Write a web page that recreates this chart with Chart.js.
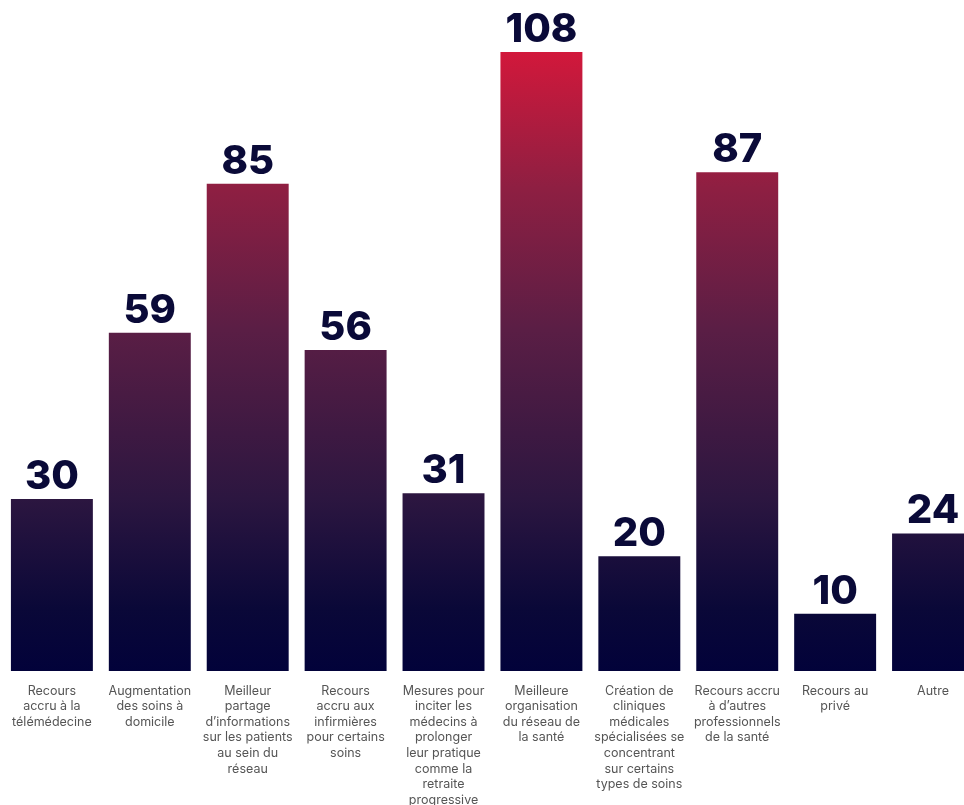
<!DOCTYPE html>
<html>
<head>
<meta charset="utf-8">
<script src="https://cdn.jsdelivr.net/npm/chart.js@4.4.1/dist/chart.umd.min.js"></script>
<style>
    html, body { margin: 0; padding: 0; background: #ffffff; overflow: hidden; }
    #wrap { width: 964px; height: 805px; overflow: hidden; position: relative; }
    #box { width: 984px; height: 811px; position: absolute; left: 0; top: 0; }
</style>
</head>
<body>
<div id="wrap">
    <div id="box"><canvas id="myBarChart"></canvas></div>
</div>
<script>
// categories (each line of the label is one entry)
const categories = [
    ["Recours", "accru à la", "télémédecine"],
    ["Augmentation", "des soins à", "domicile"],
    ["Meilleur", "partage", "d’informations", "sur les patients", "au sein du", "réseau"],
    ["Recours", "accru aux", "infirmières", "pour certains", "soins"],
    ["Mesures pour", "inciter les", "médecins à", "prolonger", "leur pratique", "comme la", "retraite", "progressive"],
    ["Meilleure", "organisation", "du réseau de", "la santé"],
    ["Création de", "cliniques", "médicales", "spécialisées se", "concentrant", "sur certains", "types de soins"],
    ["Recours accru", "à d’autres", "professionnels", "de la santé"],
    ["Recours au", "privé"],
    ["Autre"],
];

// number of answers
const values = [30, 59, 85, 56, 31, 108, 20, 87, 10, 24];

// gradient stops, from bottom of the bars to the top
const gradientStops = [
    [0.0, "#02023a"],
    [0.1, "#0a0838"],
    [0.28, "#2c1640"],
    [0.55, "#5a1e45"],
    [0.78, "#8e1f42"],
    [1.0, "#d2183b"],
];

function barGradient(context) {
    const chart = context.chart;
    const area = chart.chartArea;
    if (!area) return "#02023a";
    const g = chart.ctx.createLinearGradient(0, area.bottom, 0, area.top);
    gradientStops.forEach((s) => g.addColorStop(s[0], s[1]));
    return g;
}

// draws the number above every bar
const valueLabels = {
    id: "valueLabels",
    afterDatasetsDraw(chart) {
        const ctx = chart.ctx;
        const meta = chart.getDatasetMeta(0);
        ctx.save();
        ctx.font = "800 40px Inter";
        ctx.fillStyle = "#0a0a38";
        ctx.textAlign = "center";
        ctx.textBaseline = "alphabetic";
        meta.data.forEach((bar, i) => {
            ctx.fillText(String(values[i]), bar.x, bar.y - 10);
        });
        ctx.restore();
    },
};

const ctx = document.getElementById("myBarChart");

new Chart(ctx, {
    type: "bar",
    data: {
        labels: categories,
        datasets: [
            {
                label: "Réponses",
                data: values,
                backgroundColor: barGradient,
                borderWidth: 0,
                categoryPercentage: 1,
                barPercentage: 0.837,
            },
        ],
    },
    options: {
        responsive: true,
        maintainAspectRatio: false,
        animation: false,
        devicePixelRatio: 1,
        layout: {
            padding: { top: 52, left: 2, right: 2, bottom: 0 },
        },
        scales: {
            y: {
                display: false,
                beginAtZero: true,
                min: 0,
                max: 108,
            },
            x: {
                border: { display: false },
                grid: { display: false, drawTicks: false },
                ticks: {
                    autoSkip: false,
                    maxRotation: 0,
                    minRotation: 0,
                    padding: 12,
                    color: "#555555",
                    font: { family: "Inter", size: 12.5, lineHeight: 1.25 },
                },
                afterFit(scale) {
                    scale.height = 140; // fixed so the bars end at the same baseline
                },
            },
        },
        plugins: {
            legend: { display: false },
            tooltip: { enabled: false },
        },
    },
    plugins: [valueLabels],
});
</script>
</body>
</html>
